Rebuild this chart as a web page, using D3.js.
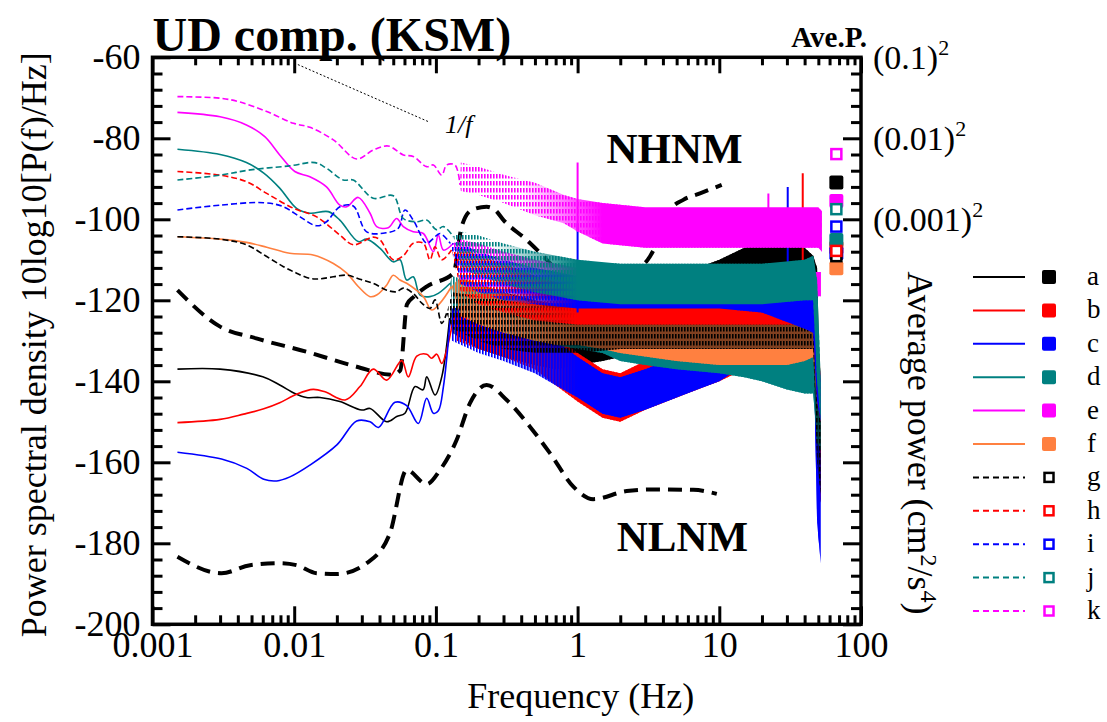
<!DOCTYPE html>
<html>
<head>
<meta charset="utf-8">
<script src="https://cdn.jsdelivr.net/npm/d3@7"></script>
<style>
  body { margin: 0; background: #fff; }
  text { font-family: "Liberation Serif", "Times New Roman", serif; fill: #000; }
</style>
</head>
<body>
<svg id="chart"></svg>
<script>
// ---- data (frequency in Hz, level in dB) ----
const names = ['a', 'b', 'c', 'd', 'e', 'f', 'g', 'h', 'i', 'j', 'k'];
const colors = ['#000000', '#ff0000', '#0000ff', '#008080', '#ff00ff', '#ff8040',
                '#000000', '#ff0000', '#0000ff', '#008080', '#ff00ff'];
const dashed = [false, false, false, false, false, false, true, true, true, true, true];

// smooth low-frequency part of each spectrum [f, dB]
const lowA = [[0.0015,-137.0],[0.003,-137.0],[0.006,-138.9],[0.0079,-140.9],[0.0101,-143.0],[0.0122,-144.0],[0.0152,-144.0],[0.021,-145.0],[0.030,-147.1],[0.0343,-146.7],[0.045,-150.0],[0.0529,-148.7],[0.0605,-147.9],[0.0713,-141.3],[0.0811,-142.1],[0.0862,-138.9],[0.0986,-143.4],[0.110,-138.9],[0.125,-124.4]];
const lowB = [[0.0015,-150.2],[0.003,-149.4],[0.0044,-148.1],[0.0061,-146.8],[0.0079,-145.3],[0.0104,-143.2],[0.0136,-142.0],[0.0165,-142.6],[0.0229,-144.6],[0.0291,-141.3],[0.0361,-137.0],[0.045,-139.7],[0.0574,-134.9],[0.0638,-138.9],[0.0733,-133.8],[0.0861,-133.3],[0.0933,-134.3],[0.1014,-133.3],[0.110,-135.6],[0.119,-132.3],[0.133,-124.4]];
const lowC = [[0.0015,-157.5],[0.00307,-159.2],[0.00463,-161.5],[0.0061,-164.2],[0.00754,-164.6],[0.00933,-163.6],[0.0129,-160.7],[0.020,-155.7],[0.0276,-149.8],[0.0343,-150.0],[0.0393,-151.4],[0.0514,-145.2],[0.0622,-146.0],[0.0752,-150.4],[0.0861,-144.2],[0.096,-147.9],[0.104,-147.3],[0.113,-141.3],[0.126,-124.9]];
const lowD = [[0.0015,-82.7],[0.003,-84.0],[0.0046,-86.0],[0.0061,-88.6],[0.0079,-92.3],[0.0104,-97.3],[0.0129,-98.5],[0.0174,-98.1],[0.021,-100.2],[0.0283,-105.5],[0.0325,-104.9],[0.0404,-107.2],[0.050,-110.5],[0.0558,-110.0],[0.0622,-115.0],[0.0692,-114.2],[0.0773,-118.7],[0.0908,-119.1],[0.104,-118.3],[0.126,-115.8]];
const lowE = [[0.0015,-73.6],[0.003,-74.7],[0.0046,-76.7],[0.0062,-79.6],[0.0079,-84.1],[0.0101,-88.2],[0.0129,-89.5],[0.0169,-92.0],[0.021,-96.5],[0.0235,-96.9],[0.0283,-94.6],[0.0343,-98.5],[0.0382,-101.8],[0.0461,-102.1],[0.0528,-99.8],[0.0589,-101.8],[0.0692,-103.1],[0.0815,-103.5],[0.096,-108.0],[0.104,-103.9],[0.113,-107.6],[0.133,-105.9]];
const lowF = [[0.0015,-104.3],[0.003,-104.9],[0.0046,-105.7],[0.0064,-106.9],[0.0093,-108.4],[0.0136,-108.8],[0.0189,-110.9],[0.0235,-113.3],[0.0283,-116.6],[0.0343,-119.1],[0.0382,-118.7],[0.045,-116.2],[0.050,-113.8],[0.0558,-115.0],[0.0622,-115.8],[0.0815,-119.1],[0.0933,-122.4],[0.107,-120.7],[0.129,-116.6]];
const lowG = [[0.0015,-104.3],[0.003,-104.9],[0.0046,-106.3],[0.0064,-109.2],[0.0084,-111.7],[0.0104,-113.3],[0.0129,-114.6],[0.0152,-114.7],[0.0189,-114.2],[0.0235,-113.8],[0.0291,-114.8],[0.0361,-115.8],[0.045,-117.5],[0.0528,-117.9],[0.0589,-117.0],[0.0692,-118.3],[0.0795,-120.7],[0.0908,-122.0],[0.0986,-119.9],[0.110,-125.7],[0.119,-123.2]];
const lowH = [[0.0015,-88.2],[0.003,-89.1],[0.0046,-90.7],[0.0064,-93.6],[0.0099,-97.3],[0.0144,-99.4],[0.021,-103.9],[0.0261,-106.3],[0.0361,-104.4],[0.0404,-105.1],[0.050,-110.0],[0.0589,-109.0],[0.0692,-105.9],[0.0815,-105.9],[0.0908,-110.0],[0.0986,-106.8],[0.110,-110.0],[0.129,-107.6]];
const lowI = [[0.0015,-97.7],[0.003,-96.5],[0.0061,-95.9],[0.0084,-96.9],[0.011,-99.4],[0.0144,-101.6],[0.0169,-100.6],[0.021,-96.9],[0.0261,-96.7],[0.0325,-103.1],[0.045,-103.3],[0.0543,-102.2],[0.0605,-97.7],[0.0692,-100.2],[0.0861,-105.9],[0.096,-104.7],[0.107,-103.5],[0.126,-105.9]];
const lowJ = [[0.0015,-90.3],[0.003,-89.1],[0.0049,-87.8],[0.0093,-86.8],[0.014,-86.0],[0.0169,-87.4],[0.0222,-90.3],[0.0261,-90.3],[0.0361,-94.8],[0.050,-94.2],[0.0589,-99.8],[0.0733,-100.6],[0.0861,-100.2],[0.1014,-102.6],[0.113,-101.8],[0.133,-104.3]];
const lowK = [[0.0015,-69.7],[0.003,-70.1],[0.0041,-71.0],[0.0064,-73.4],[0.0099,-76.3],[0.0129,-77.3],[0.0189,-80.4],[0.0276,-85.1],[0.0361,-82.9],[0.0461,-81.9],[0.0589,-84.1],[0.0692,-84.5],[0.0861,-87.0],[0.096,-86.6],[0.110,-89.1],[0.119,-86.6],[0.1365,-86.6],[0.148,-91.5]];

// noisy high-frequency part: envelope [f, low dB, high dB]
const bandA = [[0.13,-128,-120],[0.2,-132,-116],[0.3,-134,-118],[0.5,-136,-120],[0.7,-137,-121],[1,-136,-121],[1.5,-135,-120],[2,-134,-119],[3,-132,-117],[5,-130,-114],[7,-128,-112],[10,-126,-110],[15,-124,-107],[20,-122,-106],[30,-121,-106],[40,-120,-107],[46,-122,-109],[49,-165,-112],[52,-170,-150]];
const bandB = [[0.14,-130,-122],[0.2,-132,-120],[0.3,-134,-122],[0.5,-137,-126],[0.7,-141,-129],[1,-145,-133],[1.5,-149,-137],[2,-150,-138],[3,-147,-135],[5,-144,-132],[7,-142,-130],[10,-140,-128],[15,-137,-126],[20,-135,-124],[30,-132,-121],[40,-130,-119],[46,-130,-118],[49,-160,-125],[52,-170,-145]];
const bandC = [[0.13,-130,-122],[0.2,-133,-121],[0.3,-135,-123],[0.5,-138,-127],[0.7,-141,-130],[1,-144,-134],[1.5,-148,-138],[2,-149,-139],[3,-147,-137],[5,-144,-134],[7,-142,-131],[10,-140,-129],[15,-136,-126],[20,-134,-124],[30,-131,-121],[40,-130,-118],[46,-128,-116],[49,-175,-125],[52,-185,-160]];
const bandD = [[0.13,-122,-114],[0.2,-126,-116],[0.3,-128,-119],[0.5,-130,-122],[0.7,-131,-123],[1,-132,-124],[1.5,-133,-125],[2,-135,-125],[3,-136,-126],[5,-137,-126],[10,-138,-126],[15,-139,-127],[20,-140,-127],[30,-142,-127],[40,-143,-126],[46,-143,-124],[49,-155,-130],[52,-157,-145]];
const bandE = [[0.15,-116,-105],[0.2,-118,-106],[0.3,-118,-108],[0.5,-119,-110],[1,-119,-112],[2,-119,-113],[5,-119,-113],[10,-119,-113],[20,-119,-113],[40,-119,-113],[52,-119,-113]];
const bandF = [[0.15,-124,-114],[0.2,-126,-116],[0.3,-128,-118],[0.5,-130,-121],[0.7,-131,-122],[1,-131,-123],[1.5,-132,-123],[2,-133,-123],[5,-135,-123],[10,-136,-123],[20,-136,-123],[30,-136,-123],[40,-135,-123],[46,-134,-122],[49,-145,-128],[52,-148,-138]];
const bandG = [[0.13,-127,-118],[0.2,-130,-119],[0.3,-132,-120],[0.5,-133,-121],[1,-133,-121],[2,-132,-121],[5,-132,-121],[10,-132,-121],[20,-132,-121],[40,-132,-121],[46,-132,-121],[49,-160,-125],[52,-168,-150]];
const bandH = [[0.15,-118,-107],[0.2,-121,-109],[0.3,-123,-111],[0.5,-125,-114],[1,-126,-117],[2,-126,-118],[5,-126,-119],[10,-126,-119],[20,-126,-119],[40,-126,-118],[46,-126,-119],[49,-145,-125],[52,-150,-140]];
const bandI = [[0.15,-116,-106],[0.2,-118,-108],[0.3,-120,-110],[0.5,-121,-112],[1,-122,-114],[2,-122,-115],[5,-122,-116],[10,-122,-116],[20,-123,-116],[40,-127,-115],[46,-128,-115],[49,-145,-125],[52,-150,-140]];
const bandJ = [[0.15,-112,-103],[0.2,-114,-104],[0.3,-116,-106],[0.5,-118,-108],[1,-120,-110],[2,-121,-111],[5,-121,-111],[10,-121,-111],[20,-121,-111],[40,-120,-110],[46,-120,-109],[49,-140,-115],[52,-150,-140]];
const bandK = [[0.15,-93,-86],[0.2,-94,-87],[0.3,-96,-89],[0.5,-99,-91],[0.8,-101,-94],[1,-103,-95],[1.5,-106,-96],[3,-107,-97],[10,-107,-97],[50,-107,-97],[53,-108,-98]];

// single spikes seen in the spectra [series, f, low dB, high dB]
const spikes = [['k',1.0,-103,-86],['i',1.0,-123,-101],['k',22.2,-105,-93.6],['c',30.4,-113,-92],['b',38.8,-112,-88.6]];

// average power (right axis, dB of cm^2/s^4)
const avePower = [-50.9, -67.0, -68.4, -65.1, -55.5, -72.1, -69.1, -67.8, -61.8, -57.5, -43.9];
const aveFreq = 67;

// Peterson noise models [f, dB]
const nhnm = [[0.0015,-117.5],[0.003,-126.5],[0.0054,-129.4],[0.0122,-132.7],[0.0276,-136.4],[0.049,-138.4],[0.056,-137.3],[0.0625,-121],[0.070,-119.1],[0.086,-116.6],[0.133,-113.3],[0.152,-101.8],[0.179,-97.7],[0.228,-96.9],[0.26,-97.6],[0.30,-100.2],[0.437,-105.1],[0.606,-110.0],[0.85,-115.5],[1.25,-120],[1.9,-117],[2.47,-113.3],[3.24,-109.2],[3.72,-105.1],[4.49,-97.7],[5.57,-95.2],[7.31,-93.6],[10.4,-91.5]];
const nlnm = [[0.0015,-183.3],[0.00307,-187.4],[0.00488,-185.4],[0.0079,-184.9],[0.0104,-185.4],[0.0144,-187.4],[0.020,-187.6],[0.0325,-184.9],[0.0474,-177.5],[0.0622,-161.9],[0.0861,-165.4],[0.107,-161.9],[0.140,-154.5],[0.174,-145.4],[0.228,-140.9],[0.316,-144.6],[0.461,-151.2],[0.64,-157.8],[0.933,-166.0],[1.29,-169.1],[2.22,-167.1],[3.42,-166.7],[6.55,-166.8],[9.6,-167.8]];
const oneOverF = [[0.01,-61.4],[0.09,-76.0]];

const lows = [lowA, lowB, lowC, lowD, lowE, lowF, lowG, lowH, lowI, lowJ, lowK];
const bands = [bandA, bandB, bandC, bandD, bandE, bandF, bandG, bandH, bandI, bandJ, bandK];
const series = names.map((n, i) => {
  const last = lows[i][lows[i].length - 1];
  return {
    name: n, idx: i, color: colors[i], dashed: dashed[i], low: lows[i],
    // start the band where the smooth curve ends so the two join
    band: [[last[0], last[1], last[1]]].concat(bands[i]),
    ave: avePower[i]
  };
});

// ---- layout ----
const W = 1107, H = 722;
const x = d3.scaleLog().domain([0.001, 100]).range([152.5, 861]);
const y = d3.scaleLinear().domain([-200, -60]).range([624.3, 57.3]);
const yAve = d3.scaleLinear().domain([-160, -20]).range([624.3, 57.3]);

const plotBottom = y(-200), plotTop = y(-60), plotLeft = x(0.001), plotRight = x(100);

const svg = d3.select('#chart').attr('width', W).attr('height', H);
const defs = svg.append('defs');

defs.append('clipPath').attr('id', 'plot')
  .append('rect')
  .attr('x', plotLeft).attr('y', plotTop)
  .attr('width', plotRight - plotLeft).attr('height', plotBottom - plotTop);

// the noise is broken (striped) at low frequency and fills in towards 1 Hz
series.forEach(s => {
  const p = defs.append('pattern')
    .attr('id', 'pat' + s.idx)
    .attr('patternUnits', 'userSpaceOnUse')
    .attr('width', 3).attr('height', s.dashed ? 7 : 4)
    .attr('patternTransform', `translate(${s.idx % 3},${s.idx * 2})`);
  p.append('rect')
    .attr('width', 1.6).attr('height', s.dashed ? 4.5 : 4)
    .attr('fill', s.color);

  const fadeFrom = s.name === 'k' ? 0.4 : 0.25, fadeTo = s.name === 'k' ? 1.5 : 1.0;
  const full = s.name === 'g' ? 0.5 : 1;   // black dashed stays speckled
  const gr = defs.append('linearGradient')
    .attr('id', 'grad' + s.idx)
    .attr('gradientUnits', 'userSpaceOnUse')
    .attr('x1', x(fadeFrom)).attr('x2', x(fadeTo)).attr('y1', 0).attr('y2', 0);
  gr.append('stop').attr('offset', 0).attr('stop-color', s.color).attr('stop-opacity', 0);
  gr.append('stop').attr('offset', 1).attr('stop-color', s.color).attr('stop-opacity', full);
});

const plot = svg.append('g').attr('clip-path', 'url(#plot)');

const line = d3.line().x(d => x(d[0])).y(d => y(d[1])).curve(d3.curveCatmullRom);
const area = d3.area().x(d => x(d[0])).y0(d => y(d[1])).y1(d => y(d[2]));
const modelLine = d3.line().x(d => x(d[0])).y(d => y(d[1])).curve(d3.curveMonotoneX);

// 1/f guide and noise models sit under the spectra
plot.append('path')
  .attr('d', d3.line().x(d => x(d[0])).y(d => y(d[1]))(oneOverF))
  .attr('fill', 'none').attr('stroke', '#000')
  .attr('stroke-width', 1).attr('stroke-dasharray', '2,2');

[nhnm, nlnm].forEach(m => {
  plot.append('path')
    .attr('d', modelLine(m))
    .attr('fill', 'none')
    .attr('stroke', '#000')
    .attr('stroke-width', 4)
    .attr('stroke-dasharray', '14,8');
});

// spectra in legend order (k ends up on top)
series.forEach(s => {
  const g = plot.append('g');
  g.append('path')
    .attr('d', line(s.low))
    .attr('fill', 'none')
    .attr('stroke', s.color)
    .attr('stroke-width', 1.6)
    .attr('stroke-dasharray', s.dashed ? '6,3' : null);
  g.append('path')
    .attr('d', area(s.band))
    .attr('fill', `url(#pat${s.idx})`);
  g.append('path')
    .attr('d', area(s.band))
    .attr('fill', `url(#grad${s.idx})`);
  spikes.filter(p => p[0] === s.name).forEach(p => {
    g.append('line')
      .attr('x1', x(p[1])).attr('x2', x(p[1]))
      .attr('y1', y(p[2])).attr('y2', y(p[3]))
      .attr('stroke', s.color).attr('stroke-width', 2);
  });
});

// average power markers
series.forEach(s => {
  const cx = x(aveFreq), cy = yAve(s.ave);
  if (!s.dashed) {
    svg.append('rect')
      .attr('x', cx - 7).attr('y', cy - 7).attr('width', 14).attr('height', 14)
      .attr('rx', 2).attr('fill', s.color);
  } else {
    svg.append('rect')
      .attr('x', cx - 5).attr('y', cy - 5).attr('width', 10).attr('height', 10)
      .attr('fill', '#fff').attr('stroke', s.color).attr('stroke-width', 2.5);
  }
});

// ---- axes ----
const majorX = [0.001, 0.01, 0.1, 1, 10, 100];
const minorX = d3.range(-3, 2).flatMap(e => d3.range(2, 10).map(k => k * Math.pow(10, e)));
const majorY = d3.range(-200, -59, 20);
const minorY = d3.range(-200, -59, 4).filter(v => v % 20 !== 0);
const majorR = d3.range(-160, -19, 20);
const minorR = d3.range(-160, -19, 4).filter(v => v % 20 !== 0);

function styleAxis(g, fontSize) {
  g.select('.domain').remove();
  g.selectAll('.tick line').attr('stroke', '#000').attr('stroke-width', 3);
  g.selectAll('.tick text')
    .attr('fill', '#000')
    .style('font-size', fontSize + 'px')
    .style('font-family', '"Liberation Serif", "Times New Roman", serif');
}

svg.append('g').attr('transform', `translate(0,${plotBottom})`)
  .call(d3.axisBottom(x).tickValues(majorX).tickSize(-18).tickPadding(7).tickFormat(d => String(d)))
  .call(g => styleAxis(g, 36));
svg.append('g').attr('transform', `translate(0,${plotBottom})`)
  .call(d3.axisBottom(x).tickValues(minorX).tickSize(-9).tickFormat(''))
  .call(g => styleAxis(g, 36));
svg.append('g').attr('transform', `translate(0,${plotTop})`)
  .call(d3.axisTop(x).tickValues(majorX).tickSize(-16).tickFormat(''))
  .call(g => styleAxis(g, 36));
svg.append('g').attr('transform', `translate(0,${plotTop})`)
  .call(d3.axisTop(x).tickValues(minorX).tickSize(-8).tickFormat(''))
  .call(g => styleAxis(g, 36));

svg.append('g').attr('transform', `translate(${plotLeft},0)`)
  .call(d3.axisLeft(y).tickValues(majorY).tickSize(-18).tickPadding(12).tickFormat(d => String(d)))
  .call(g => styleAxis(g, 36));
svg.append('g').attr('transform', `translate(${plotLeft},0)`)
  .call(d3.axisLeft(y).tickValues(minorY).tickSize(-10).tickFormat(''))
  .call(g => styleAxis(g, 36));

svg.append('g').attr('transform', `translate(${plotRight},0)`)
  .call(d3.axisRight(yAve).tickValues(majorR).tickSize(-18).tickFormat(''))
  .call(g => styleAxis(g, 36));
svg.append('g').attr('transform', `translate(${plotRight},0)`)
  .call(d3.axisRight(yAve).tickValues(minorR).tickSize(-10).tickFormat(''))
  .call(g => styleAxis(g, 36));

// right axis labels with superscripts
const rightLabels = [[-20, '(0.1)'], [-40, '(0.01)'], [-60, '(0.001)']];
rightLabels.forEach(([v, t]) => {
  const tx = svg.append('text')
    .attr('x', plotRight + 12).attr('y', yAve(v) + 12)
    .style('font-size', '34px');
  tx.append('tspan').text(t);
  tx.append('tspan').attr('dy', -14).style('font-size', '22px').text('2');
});

// frame
svg.append('rect')
  .attr('x', plotLeft).attr('y', plotTop)
  .attr('width', plotRight - plotLeft).attr('height', plotBottom - plotTop)
  .attr('fill', 'none').attr('stroke', '#000').attr('stroke-width', 3.5);

// ---- texts ----
svg.append('text')
  .attr('x', plotLeft).attr('y', 51)
  .style('font-size', '48px').style('font-weight', 'bold')
  .text('UD comp. (KSM)');

svg.append('text')
  .attr('x', 867).attr('y', 47).attr('text-anchor', 'end')
  .style('font-size', '29px').style('font-weight', 'bold')
  .text('Ave.P.');

svg.append('text')
  .attr('transform', `translate(46,${(plotTop + plotBottom) / 2 + 4}) rotate(-90)`)
  .attr('text-anchor', 'middle')
  .style('font-size', '36px')
  .text('Power spectral density 10log10[P(f)/Hz]');

svg.append('text')
  .attr('x', (plotLeft + plotRight) / 2 + 74).attr('y', 708)
  .attr('text-anchor', 'middle')
  .style('font-size', '36px')
  .text('Frequency (Hz)');

const ap = svg.append('text')
  .attr('transform', 'translate(908,443) rotate(90)')
  .attr('text-anchor', 'middle')
  .style('font-size', '36px');
ap.append('tspan').text('Average power (cm');
ap.append('tspan').attr('dy', -13).style('font-size', '24px').text('2');
ap.append('tspan').attr('dy', 13).text('/s');
ap.append('tspan').attr('dy', -13).style('font-size', '24px').text('4');
ap.append('tspan').attr('dy', 13).text(')');

svg.append('text')
  .attr('x', x(1.6)).attr('y', y(-86.1))
  .style('font-size', '43px').style('font-weight', 'bold')
  .text('NHNM');
svg.append('text')
  .attr('x', x(1.89)).attr('y', y(-181.9))
  .style('font-size', '43px').style('font-weight', 'bold')
  .text('NLNM');
svg.append('text')
  .attr('x', x(0.116)).attr('y', y(-78.7))
  .style('font-size', '26px').style('font-style', 'italic')
  .text('1/f');

// ---- legend ----
const legend = svg.append('g').attr('transform', 'translate(973,277)');
series.forEach((s, i) => {
  const g = legend.append('g').attr('transform', `translate(0,${i * 33.4})`);
  g.append('line')
    .attr('x1', 0).attr('x2', 52).attr('y1', 0).attr('y2', 0)
    .attr('stroke', s.color).attr('stroke-width', 2)
    .attr('stroke-dasharray', s.dashed ? '6,4' : null);
  if (!s.dashed) {
    g.append('rect').attr('x', 69).attr('y', -7).attr('width', 14).attr('height', 14)
      .attr('rx', 2).attr('fill', s.color);
  } else {
    g.append('rect').attr('x', 71.5).attr('y', -4.5).attr('width', 9).attr('height', 9)
      .attr('fill', '#fff').attr('stroke', s.color).attr('stroke-width', 2.5);
  }
  g.append('text')
    .attr('x', 114).attr('y', 8)
    .style('font-size', '27px')
    .text(s.name);
});
</script>
</body>
</html>
